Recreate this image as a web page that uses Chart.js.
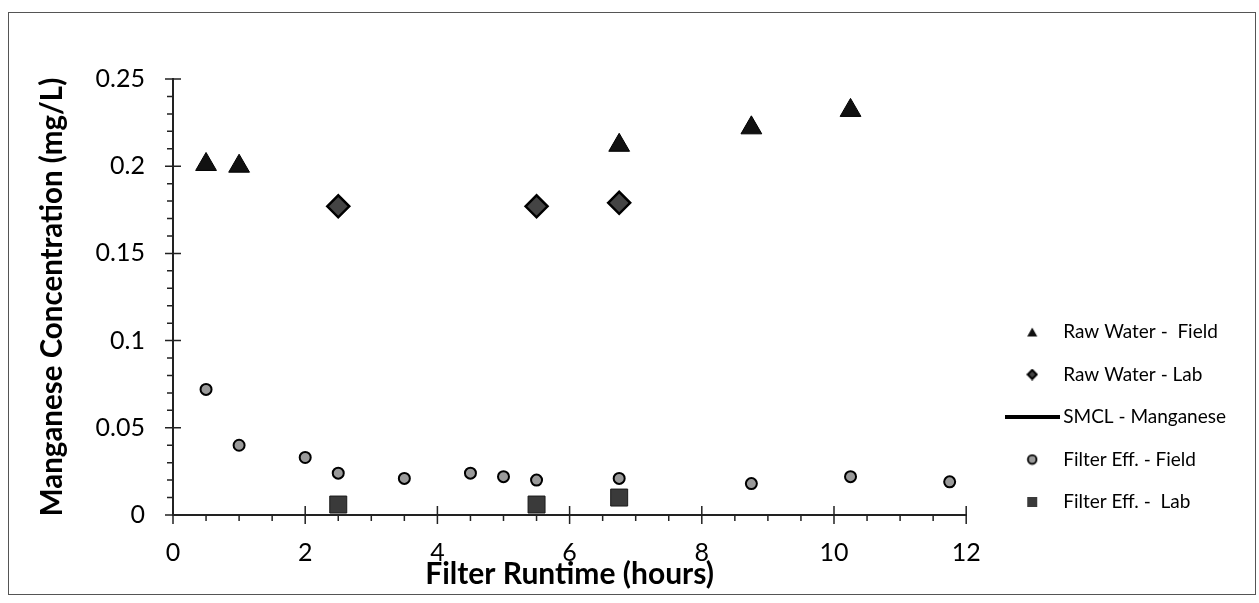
<!DOCTYPE html>
<html>
<head>
<meta charset="utf-8">
<script src="https://cdn.jsdelivr.net/npm/chart.js@4"></script>
<style>
  body { margin: 0; background: #fff; }
  #frame { position: absolute; left: 8px; top: 12px; border: 1px solid #555; }
  canvas { display: block; }
</style>
</head>
<body>
<div id="frame"><canvas id="chart" width="1246" height="581"></canvas></div>
<script>
// runtime (hours) and Mn concentration (mg/L)
const rawFieldX = [0.5, 1.0, 6.75, 8.75, 10.25];
const rawFieldY = [0.201, 0.200, 0.212, 0.222, 0.232];
const rawLabX = [2.5, 5.5, 6.75];
const rawLabY = [0.177, 0.177, 0.179];
const smclX = [];
const smclY = [];
const effFieldX = [0.5, 1.0, 2.0, 2.5, 3.5, 4.5, 5.0, 5.5, 6.75, 8.75, 10.25, 11.75];
const effFieldY = [0.072, 0.040, 0.033, 0.024, 0.021, 0.024, 0.022, 0.020, 0.021, 0.018, 0.022, 0.019];
const effLabX = [2.5, 5.5, 6.75];
const effLabY = [0.006, 0.006, 0.010];

const xTickLabels = ['0', '2', '4', '6', '8', '10', '12'];
const yTickLabels = ['0', '0.05', '0.1', '0.15', '0.2', '0.25'];

const FONT = 'Lato, "Open Sans", sans-serif';

function pts(xs, ys) {
  return xs.map((x, i) => ({ x: x, y: ys[i] }));
}

// small legend swatches (the legend box is wide, so draw them as images)
function swatch(w, h, draw) {
  const c = document.createElement('canvas');
  c.width = w;
  c.height = h;
  draw(c.getContext('2d'));
  return c;
}
const legendIcons = [
  swatch(12, 12, g => {
    g.fillStyle = '#111';
    g.beginPath(); g.moveTo(6, 1.5); g.lineTo(11, 10.5); g.lineTo(1, 10.5); g.closePath(); g.fill();
  }),
  swatch(12, 12, g => {
    g.fillStyle = '#444'; g.strokeStyle = '#000'; g.lineWidth = 2;
    g.beginPath(); g.moveTo(6, 1.5); g.lineTo(10.5, 6); g.lineTo(6, 10.5); g.lineTo(1.5, 6); g.closePath();
    g.fill(); g.stroke();
  }),
  swatch(55, 4, g => {
    g.fillStyle = '#000'; g.fillRect(0, 0, 55, 4);
  }),
  swatch(12, 12, g => {
    g.fillStyle = '#9a9a9a'; g.strokeStyle = '#000'; g.lineWidth = 1.8;
    g.beginPath(); g.arc(6, 6, 4.3, 0, Math.PI * 2); g.fill(); g.stroke();
  }),
  swatch(12, 12, g => {
    g.fillStyle = '#3a3a3a'; g.fillRect(1, 1, 10, 10);
  })
];

// major ticks cross the axis, minor ticks sit outside it
const axisTicks = {
  id: 'axisTicks',
  afterDraw(chart) {
    const { ctx, scales: { x, y } } = chart;
    const x0 = x.getPixelForValue(0);
    const y0 = y.getPixelForValue(0);
    ctx.save();
    ctx.strokeStyle = '#222';
    ctx.lineWidth = 1.5;
    ctx.beginPath();
    for (let i = 0; i <= 25; i++) {
      const py = y.getPixelForValue(i / 100);
      if (i % 5 === 0) {
        ctx.moveTo(x0 - 8, py); ctx.lineTo(x0 + 8, py);
      } else {
        ctx.moveTo(x0 - 6, py); ctx.lineTo(x0, py);
      }
    }
    for (let i = 0; i <= 24; i++) {
      const px = x.getPixelForValue(i / 2);
      if (i % 4 === 0) {
        ctx.moveTo(px, y0 - 9); ctx.lineTo(px, y0 + 9);
      } else {
        ctx.moveTo(px, y0); ctx.lineTo(px, y0 + 6);
      }
    }
    ctx.stroke();
    ctx.restore();
  }
};

new Chart(document.getElementById('chart'), {
  type: 'scatter',
  data: {
    datasets: [
      {
        label: 'Raw Water -  Field',
        data: pts(rawFieldX, rawFieldY),
        pointStyle: 'triangle',
        pointRadius: 12,
        backgroundColor: '#111',
        borderColor: '#000',
        borderWidth: 1
      },
      {
        label: 'Raw Water - Lab',
        data: pts(rawLabX, rawLabY),
        pointStyle: 'rectRot',
        pointRadius: 11,
        backgroundColor: '#444',
        borderColor: '#000',
        borderWidth: 2.5
      },
      {
        label: 'SMCL - Manganese',
        type: 'line',
        data: pts(smclX, smclY),
        borderColor: '#000',
        backgroundColor: '#000',
        borderWidth: 3,
        pointRadius: 0
      },
      {
        label: 'Filter Eff. - Field',
        data: pts(effFieldX, effFieldY),
        pointStyle: 'circle',
        pointRadius: 5.5,
        backgroundColor: '#9a9a9a',
        borderColor: '#000',
        borderWidth: 2
      },
      {
        label: 'Filter Eff. -  Lab',
        data: pts(effLabX, effLabY),
        pointStyle: 'rect',
        pointRadius: 12,
        backgroundColor: '#3a3a3a',
        borderColor: '#1a1a1a',
        borderWidth: 1
      }
    ]
  },
  options: {
    responsive: false,
    animation: false,
    layout: { padding: { top: 66, left: 0, right: 19, bottom: 0 } },
    plugins: {
      tooltip: { enabled: false },
      legend: {
        position: 'right',
        align: 'start',
        maxWidth: 400,
        title: { display: true, text: '', font: { size: 10 }, padding: { top: 208, bottom: 0 } },
        labels: {
          usePointStyle: true,
          pointStyleWidth: 43,
          boxHeight: 8,
          padding: 23.5,
          color: '#000',
          font: { family: FONT, size: 19 },
          generateLabels(chart) {
            const items = Chart.defaults.plugins.legend.labels.generateLabels(chart);
            items.forEach(it => { it.pointStyle = legendIcons[it.datasetIndex]; });
            return items;
          }
        }
      }
    },
    scales: {
      x: {
        type: 'linear',
        min: 0,
        max: 12,
        afterFit(s) { s.height = 79; },
        border: { display: true, color: '#222', width: 2 },
        grid: { display: true, drawOnChartArea: false, drawTicks: false },
        ticks: {
          stepSize: 2,
          padding: 23,
          color: '#000',
          font: { family: FONT, size: 25 },
          callback: (v, i) => xTickLabels[i]
        },
        title: {
          display: true,
          text: 'Filter Runtime (hours)',
          color: '#000',
          font: { family: FONT, size: 30, weight: 'bold' },
          padding: { top: 0, bottom: 2 }
        }
      },
      y: {
        type: 'linear',
        min: 0,
        max: 0.25,
        afterFit(s) { s.width = 164; },
        border: { display: true, color: '#222', width: 2 },
        grid: { display: true, drawOnChartArea: false, drawTicks: false },
        ticks: {
          stepSize: 0.05,
          padding: 28,
          color: '#000',
          font: { family: FONT, size: 25 },
          callback: (v, i) => yTickLabels[i]
        },
        title: {
          display: true,
          text: 'Manganese Concentration (mg/L)',
          color: '#000',
          font: { family: FONT, size: 29.5, weight: 'bold' },
          padding: { top: 26, bottom: 0 }
        }
      },
      gap: {
        type: 'linear',
        position: 'right',
        display: true,
        afterFit(s) { s.width = 21; },
        border: { display: false },
        grid: { display: false },
        ticks: { display: false }
      }
    }
  },
  plugins: [axisTicks]
});
</script>
</body>
</html>
